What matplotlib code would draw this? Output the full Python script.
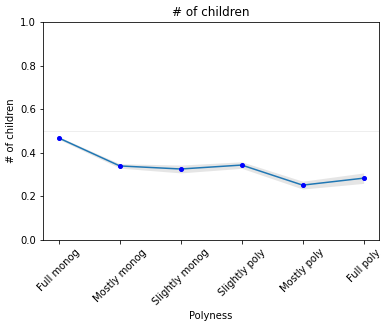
import matplotlib
matplotlib.use("Agg")
import matplotlib.pyplot as plt
import numpy as np

categories = ["Full monog", "Mostly monog", "Slightly monog", "Slightly poly", "Mostly poly", "Full poly"]
means = [0.468, 0.340, 0.326, 0.344, 0.252, 0.284]
ci_half = [0.006, 0.010, 0.018, 0.015, 0.018, 0.024]

fig = plt.figure(figsize=(389/72, 328/72), dpi=72)
ax = fig.add_axes([0.1105, 0.268, 0.8635, 0.665])
x = np.arange(len(categories))
m = np.array(means); c = np.array(ci_half)
ax.axhline(0.5, color="#eeeeee", lw=1, zorder=0)
ax.fill_between(x, m - c, m + c, color="gray", alpha=0.2, lw=0)
ax.plot(x, m, color="#1f77b4", lw=1.5)
ax.plot(x, m, "o", color="blue", ms=4)
ax.set_xlim(-0.26, 5.25)
ax.set_ylim(0, 1.0)
ax.set_xticks(x)
ax.set_xticklabels(categories, rotation=45)
ax.set_yticks([0, 0.2, 0.4, 0.6, 0.8, 1.0])
ax.set_xlabel("Polyness")
ax.set_ylabel("# of children")
ax.set_title("# of children")
fig.savefig("out.png", dpi=72)
